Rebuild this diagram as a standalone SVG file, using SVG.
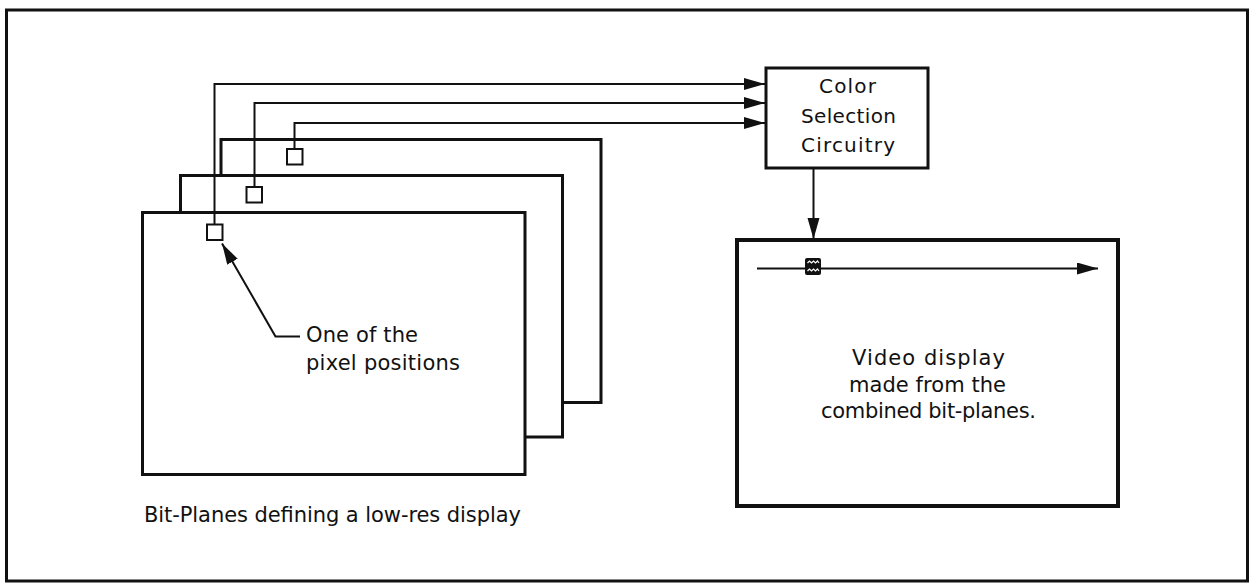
<svg xmlns="http://www.w3.org/2000/svg" width="1250" height="587" viewBox="0 0 1250 587">
<defs>
<style>
text{font-family:"DejaVu Sans","Liberation Sans",sans-serif;fill:#111;}
.plane{fill:#fff;stroke:#111;stroke-width:3;}
.px{fill:#fff;stroke:#111;stroke-width:2;}
.wire{fill:none;stroke:#111;stroke-width:2;}
.box{fill:#fff;stroke:#111;stroke-width:3;}
</style>
<marker id="ah" markerUnits="userSpaceOnUse" markerWidth="22" markerHeight="14" refX="21" refY="6" orient="auto">
<path d="M0,0 L21,6 L0,12 Z" fill="#111"/>
</marker>
</defs>
<rect x="6.5" y="10" width="1241" height="571" fill="none" stroke="#111" stroke-width="3"/>

<g id="plane3">
<rect class="plane" x="221" y="139.5" width="380" height="263"/>
<rect class="px" x="287" y="149" width="15.5" height="15.5"/>
</g>
<g id="plane2">
<rect class="plane" x="180.5" y="175.5" width="382" height="261.5"/>
<rect class="px" x="246.5" y="187" width="15.5" height="15.5"/>
</g>
<g id="plane1">
<rect class="plane" x="142.5" y="212.5" width="382.5" height="262"/>
<rect class="px" x="207" y="224.5" width="15.5" height="15.5"/>
</g>

<g id="color-selection">
<rect class="box" x="766" y="68" width="162" height="100"/>
<text x="819" y="93" font-size="20" textLength="57" lengthAdjust="spacing">Color</text>
<text x="801" y="123" font-size="20" textLength="95" lengthAdjust="spacing">Selection</text>
<text x="801" y="152" font-size="20" textLength="94" lengthAdjust="spacing">Circuitry</text>
</g>

<g id="video-display">
<rect x="737" y="240" width="381" height="266" fill="#fff" stroke="#111" stroke-width="4"/>
<text x="852" y="365" font-size="21" textLength="153" lengthAdjust="spacing">Video display</text>
<text x="849" y="392" font-size="21" textLength="157" lengthAdjust="spacing">made from the</text>
<text x="821" y="418" font-size="21" textLength="215" lengthAdjust="spacing">combined bit-planes.</text>
</g>

<g id="connectors">
<polyline class="wire" points="214.5,224.5 214.5,84 765,84" marker-end="url(#ah)"/>
<polyline class="wire" points="254.5,187 254.5,103 765,103" marker-end="url(#ah)"/>
<polyline class="wire" points="294.5,149 294.5,123 765,123" marker-end="url(#ah)"/>
<line class="wire" x1="813.5" y1="168" x2="813.5" y2="239" marker-end="url(#ah)"/>
<line class="wire" x1="757" y1="268.5" x2="1098" y2="268.5" marker-end="url(#ah)"/>
<polyline class="wire" points="300,336.5 275.5,336.5 222,243.5" marker-end="url(#ah)"/>
</g>

<g id="pixel-marker">
<rect x="805" y="258" width="16" height="17" rx="2" fill="#111"/>
<polyline points="807.5,263 809.5,261 811.5,263 813.5,261 815.5,263 817.5,261 819,263" fill="none" stroke="#fff" stroke-width="1.2"/>
<polyline points="807.5,271 809.5,269 811.5,271 813.5,269 815.5,271 817.5,269 819,271" fill="none" stroke="#fff" stroke-width="1.2"/>
</g>

<g id="labels">
<text x="306" y="342" font-size="21" textLength="112" lengthAdjust="spacing">One of the</text>
<text x="306" y="370" font-size="21" textLength="154" lengthAdjust="spacing">pixel positions</text>
<text x="144" y="522" font-size="21" textLength="377" lengthAdjust="spacing">Bit-Planes defining a low-res display</text>
</g>
</svg>
